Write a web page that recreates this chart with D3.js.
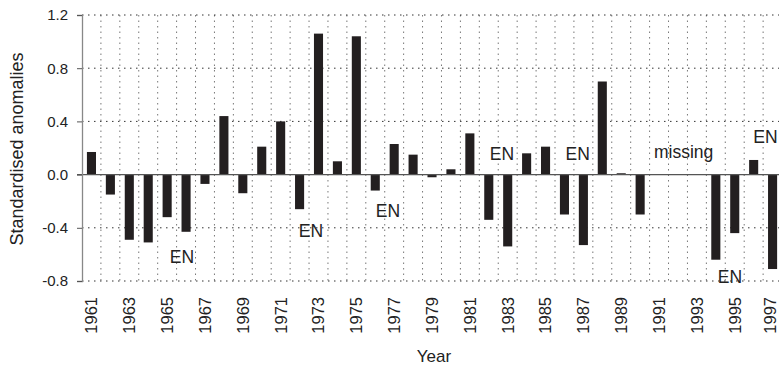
<!DOCTYPE html>
<html>
<head>
<meta charset="utf-8">
<script src="https://cdn.jsdelivr.net/npm/d3@7"></script>
<style>
  html, body { margin: 0; padding: 0; background: #fff; }
  svg { display: block; font-family: "Liberation Sans", Arial, sans-serif; }
</style>
</head>
<body>
<svg id="chart" width="779" height="367"></svg>
<script>
// ---- data ----
const years = d3.range(1961, 1998);
const anomalies = [
  0.17, -0.15, -0.49, -0.51, -0.32, -0.43, -0.07, 0.44, -0.14, 0.21,
  0.40, -0.26, 1.06, 0.10, 1.04, -0.12, 0.23, 0.15, -0.02, 0.04,
  0.31, -0.34, -0.54, 0.16, 0.21, -0.30, -0.53, 0.70, 0.01, -0.30,
  null, null, null, -0.64, -0.44, 0.11, -0.71
];
const yTicks = [-0.8, -0.4, 0.0, 0.4, 0.8, 1.2];
const labelYears = years.filter(y => y % 2 === 1);
const noteText = ["EN", "EN", "EN", "EN", "EN", "missing", "EN", "EN"];
const noteYear = [1965.78, 1972.6, 1976.67, 1982.7, 1986.7, 1992.3, 1994.75, 1996.62];
const noteValue = [-0.665, -0.469, -0.32, 0.11, 0.11, 0.125, -0.815, 0.24];

// ---- layout ----
const svg = d3.select("#chart");
const plotLeft = 82, step = 18.92;
const plotRight = plotLeft + step * years.length;
const plotTop = 15, plotBottom = 281;

const x = d3.scaleBand().domain(years).range([plotLeft, plotRight]).padding(0);
const xc = d3.scaleLinear().domain([1961, 1997]).range([plotLeft + step / 2, plotRight - step / 2]);
const y = d3.scaleLinear().domain([-0.8, 1.2]).range([plotBottom, plotTop]);

// vertical dotted gridlines at slot boundaries
const bounds = d3.range(1, years.length + 1).map(i => plotLeft + i * x.step());
svg.append("g").selectAll("line").data(bounds).join("line")
  .attr("x1", d => d).attr("x2", d => d)
  .attr("y1", plotTop).attr("y2", plotBottom)
  .attr("stroke", "#777").attr("stroke-width", 1)
  .attr("stroke-dasharray", "1.5,4");

// horizontal dotted gridlines
svg.append("g").selectAll("line").data(yTicks.filter(t => t !== 0)).join("line")
  .attr("x1", plotLeft).attr("x2", 779)
  .attr("y1", d => y(d)).attr("y2", d => y(d))
  .attr("stroke", "#333").attr("stroke-width", 1)
  .attr("stroke-dasharray", "1.5,4.5");

// bars
const barW = x.step() * 0.48;
svg.append("g").selectAll("rect")
  .data(years.map((yr, i) => ({ yr, v: anomalies[i] })).filter(d => d.v !== null))
  .join("rect")
  .attr("x", d => x(d.yr) + (x.step() - barW) / 2)
  .attr("width", barW)
  .attr("y", d => y(Math.max(0, d.v)))
  .attr("height", d => Math.max(1, Math.abs(y(d.v) - y(0))))
  .attr("fill", "#231f20");

// zero line
svg.append("line")
  .attr("x1", plotLeft - 5).attr("x2", 779)
  .attr("y1", y(0)).attr("y2", y(0))
  .attr("stroke", "#555").attr("stroke-width", 1.2);

// y axis
const yAxis = d3.axisLeft(y).tickValues(yTicks).tickSize(5).tickPadding(9)
  .tickFormat(d => d < 0 ? "-" + d3.format(".1f")(-d) : d3.format(".1f")(d));
const ga = svg.append("g").attr("transform", `translate(${plotLeft},0)`).call(yAxis);
ga.select(".domain").attr("stroke", "#888").attr("stroke-width", 1.3);
ga.selectAll(".tick line").attr("stroke", "#555");
ga.selectAll(".tick text").attr("font-size", 15).attr("fill", "#222")
  .attr("font-family", "Liberation Sans, Arial, sans-serif");

// x labels (odd years, rotated)
svg.append("g").selectAll("text").data(labelYears).join("text")
  .attr("transform", d => `translate(${Math.min(x(d) + x.step() / 2, 770)},297) rotate(-90)`)
  .attr("text-anchor", "end").attr("dy", "0.36em")
  .attr("font-size", 16.5).attr("fill", "#222")
  .text(d => d);

// axis titles
svg.append("text")
  .attr("transform", "translate(23,149) rotate(-90)")
  .attr("text-anchor", "middle")
  .attr("font-size", 18).attr("fill", "#222")
  .text("Standardised anomalies");
svg.append("text")
  .attr("x", 434).attr("y", 362)
  .attr("text-anchor", "middle")
  .attr("font-size", 17).attr("fill", "#222")
  .text("Year");

// annotations
svg.append("g").selectAll("text").data(noteText.map((t, i) => ({ t, yr: noteYear[i], v: noteValue[i] })))
  .join("text")
  .attr("x", d => xc(d.yr)).attr("y", d => y(d.v))
  .attr("text-anchor", "middle")
  .attr("font-size", 17.5).attr("fill", "#222")
  .text(d => d.t);
</script>
</body>
</html>
